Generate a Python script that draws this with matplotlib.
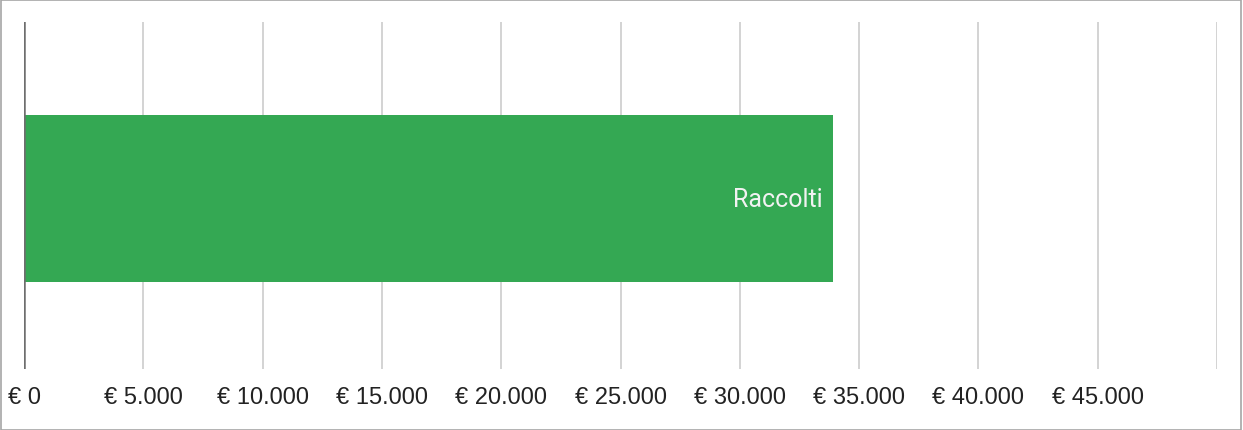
import matplotlib
matplotlib.use('Agg')
import matplotlib.pyplot as plt
from matplotlib.patches import Rectangle

# data
categories = ['Raccolti']
values = [33900]
tick_values = [0, 5000, 10000, 15000, 20000, 25000, 30000, 35000, 40000, 45000]
tick_labels = ['€ 0', '€ 5.000', '€ 10.000', '€ 15.000', '€ 20.000', '€ 25.000',
               '€ 30.000', '€ 35.000', '€ 40.000', '€ 45.000']
x_max = 50000

fig = plt.figure(figsize=(12.43, 4.31), dpi=100)
ax = fig.add_axes([24 / 1243, 1 - 370 / 431, (1217 - 24) / 1243, (370 - 23) / 431])

bars = ax.barh([-0.009], values, height=0.48, color='#34a853', zorder=3)
for b, name in zip(bars, categories):
    ax.text(b.get_width() - x_max * 0.0085, b.get_y() + b.get_height() / 2, name,
            ha='right', va='center', color='#f2f2f2', fontsize=18, family='Roboto',
            zorder=4)

ax.set_xlim(0, x_max)
ax.set_ylim(-0.5, 0.5)

# grid lines every 5000 including the end
for v in tick_values[1:] + [x_max]:
    ax.axvline(v, color='#cccccc', lw=1.2, zorder=1)
ax.axvline(0, color='#6e6e6e', lw=1.8, zorder=5)

ax.set_xticks(tick_values)
ax.set_xticklabels(tick_labels, family='Liberation Sans', fontsize=17, color='#222222')
ax.tick_params(axis='x', length=0, pad=12)
ax.set_yticks([])
for s in ax.spines.values():
    s.set_visible(False)

# outer frame
fig.patches.append(Rectangle((0.0005, 0.001), 0.998, 0.997, transform=fig.transFigure,
                             fill=False, edgecolor='#a6a6a6', lw=1.2))

fig.savefig('out.png', dpi=100)
